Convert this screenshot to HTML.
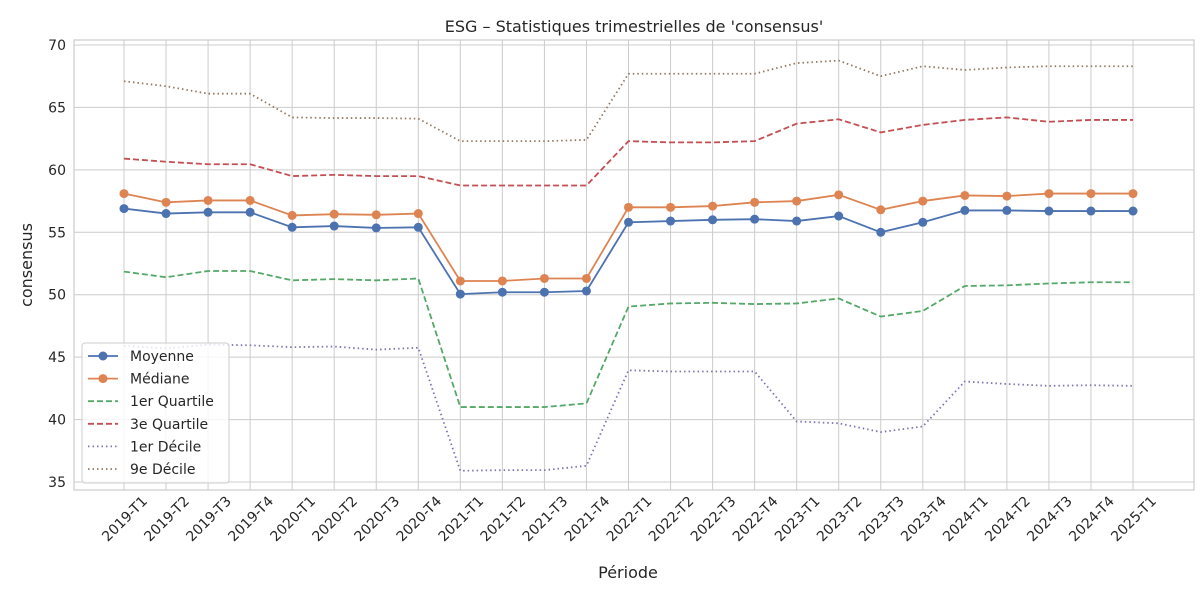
<!DOCTYPE html>
<html><head><meta charset="utf-8"><style>
body{margin:0;background:#fff;font-family:"Liberation Sans","DejaVu Sans",sans-serif}
</style></head><body>
<svg id="chart" width="1200" height="600" xmlns="http://www.w3.org/2000/svg" font-family="DejaVu Sans, Liberation Sans, sans-serif"></svg>
<script>
const categories=["2019-T1","2019-T2","2019-T3","2019-T4","2020-T1","2020-T2","2020-T3","2020-T4","2021-T1","2021-T2","2021-T3","2021-T4","2022-T1","2022-T2","2022-T3","2022-T4","2023-T1","2023-T2","2023-T3","2023-T4","2024-T1","2024-T2","2024-T3","2024-T4","2025-T1"];
const moyenne=[56.9,56.5,56.6,56.6,55.4,55.5,55.35,55.4,50.05,50.2,50.2,50.3,55.8,55.9,56.0,56.05,55.9,56.3,55.0,55.8,56.75,56.75,56.7,56.7,56.7];
const mediane=[58.1,57.4,57.55,57.55,56.35,56.45,56.4,56.5,51.1,51.1,51.3,51.3,57.0,57.0,57.1,57.4,57.5,58.0,56.8,57.5,57.95,57.9,58.1,58.1,58.1];
const q1=[51.85,51.4,51.9,51.9,51.15,51.25,51.15,51.3,41.0,41.0,41.0,41.3,49.05,49.3,49.35,49.25,49.3,49.7,48.25,48.7,50.7,50.75,50.9,51.0,51.0];
const q3=[60.9,60.65,60.45,60.45,59.5,59.6,59.5,59.5,58.75,58.75,58.75,58.75,62.3,62.2,62.2,62.3,63.7,64.05,63.0,63.6,64.0,64.2,63.85,64.0,64.0];
const d1=[45.9,45.7,46.0,45.95,45.8,45.85,45.6,45.75,35.9,35.95,35.95,36.3,43.95,43.85,43.85,43.85,39.85,39.7,39.0,39.45,43.05,42.85,42.7,42.75,42.7];
const d9=[67.1,66.7,66.1,66.1,64.2,64.15,64.15,64.1,62.3,62.3,62.3,62.4,67.7,67.7,67.7,67.7,68.55,68.75,67.5,68.3,68.0,68.2,68.3,68.3,68.3];
const yTicks=[35,40,45,50,55,60,65,70];

const svg=document.getElementById('chart');
const NS='http://www.w3.org/2000/svg';
const L=74,R=1194,T=40,B=490;
const x=i=>124+i*(1133-124)/(categories.length-1);
const y=v=>482-(v-35)*(482-45)/35;
function mk(tag,attrs,parent){const e=document.createElementNS(NS,tag);for(const k in attrs)e.setAttribute(k,attrs[k]);(parent||svg).appendChild(e);return e;}

const grid=mk('g',{});


yTicks.forEach(t=>{
  mk('line',{x1:L,x2:R,y1:y(t),y2:y(t),stroke:'#cccccc','stroke-width':1},grid);
  const tx=mk('text',{x:L-8,y:y(t)+5,'text-anchor':'end','font-size':14,fill:'#262626'});
  tx.textContent=t;
  
  
});
categories.forEach((c,i)=>{
  mk('line',{x1:x(i),x2:x(i),y1:T,y2:B,stroke:'#cccccc','stroke-width':1},grid);
  const ax=x(i)+24, ay=B+12;
  const tx=mk('text',{x:ax,y:ay,'text-anchor':'end','font-size':14,fill:'#262626',transform:`rotate(-45 ${ax} ${ay})`});
  tx.textContent=c;
  
  
});
const frame=mk('rect',{x:L,y:T,width:R-L,height:B-T,fill:'none',stroke:'#cccccc','stroke-width':1.2});



const series=[
 {name:'Moyenne',data:moyenne,color:'#4c72b0',dash:'',marker:true},
 {name:'Médiane',data:mediane,color:'#dd8452',dash:'',marker:true},
 {name:'1er Quartile',data:q1,color:'#55a868',dash:'6,3'},
 {name:'3e Quartile',data:q3,color:'#c44e52',dash:'6,3'},
 {name:'1er Décile',data:d1,color:'#8172b3',dash:'1.5,3'},
 {name:'9e Décile',data:d9,color:'#937860',dash:'1.5,3'}
];
series.forEach(s=>{
  const g=mk('g',{});
  
  
  mk('polyline',{points:s.data.map((v,i)=>x(i)+','+y(v)).join(' '),fill:'none',stroke:s.color,'stroke-width':1.8,'stroke-dasharray':s.dash},g);
  if(s.marker)s.data.forEach((v,i)=>{
    const c=mk('circle',{cx:x(i),cy:y(v),r:4.5,fill:s.color},g);
    
    
  });
});

const lg=mk('g',{});


mk('rect',{x:82,y:343,width:147,height:140,rx:3,fill:'#fff','fill-opacity':0.8,stroke:'#cccccc'},lg);
series.forEach((s,i)=>{
  const yy=356+i*22.6;
  const e=mk('g',{},lg);
  
  
  mk('line',{x1:88,x2:118,y1:yy,y2:yy,stroke:s.color,'stroke-width':1.8,'stroke-dasharray':s.dash},e);
  if(s.marker)mk('circle',{cx:103,cy:yy,r:4.5,fill:s.color},e);
  const t=mk('text',{x:130,y:yy+5,'font-size':14,fill:'#262626'},e);
  t.textContent=s.name;
});

const title=mk('text',{x:634,y:32,'text-anchor':'middle','font-size':16,fill:'#262626'});
title.textContent="ESG – Statistiques trimestrielles de 'consensus'";


const xt=mk('text',{x:628,y:578,'text-anchor':'middle','font-size':16,fill:'#262626'});
xt.textContent='Période';


const yt=mk('text',{x:32,y:265,'text-anchor':'middle','font-size':16,fill:'#262626',transform:'rotate(-90 32 265)'});
yt.textContent='consensus';


</script>
</body></html>
